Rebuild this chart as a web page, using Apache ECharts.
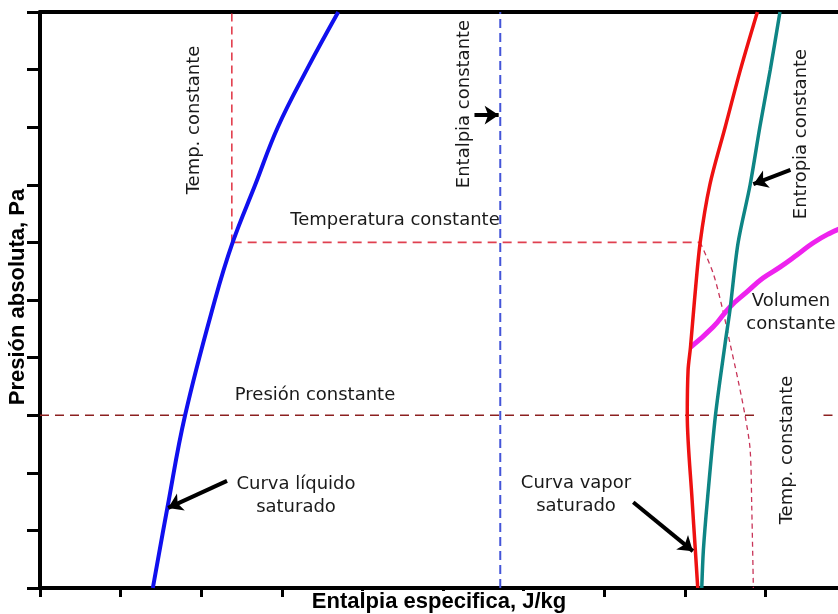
<!DOCTYPE html>
<html>
<head>
<meta charset="utf-8">
<script src="https://cdn.jsdelivr.net/npm/echarts@6/dist/echarts.min.js"></script>
<style>
  html, body { margin: 0; padding: 0; background: #fff; }
  #chart { width: 838px; height: 614px; }
</style>
</head>
<body>
<div id="chart"></div>
<script>
// Diagrama presión–entalpía (escala relativa; una división por marca)
const xTicks = [0, 1, 2, 3, 4, 5, 6, 7, 8, 9];
const yTicks = [0, 1, 2, 3, 4, 5, 6, 7, 8, 9, 10];

// Curva de líquido saturado
const liquidoH = [1.40, 1.58, 1.80, 2.17, 2.39, 2.67, 2.95, 3.31, 3.70];
const liquidoP = [0, 1.39, 3.0, 5.0, 6.0, 7.0, 8.0, 9.0, 10.0];

// Curva de vapor saturado
const vaporH = [8.16, 8.13, 8.09, 8.03, 8.04, 8.07, 8.12, 8.19, 8.31, 8.50, 8.69, 8.90];
const vaporP = [0, 0.66, 1.53, 3.0, 3.78, 4.18, 5.0, 6.0, 7.0, 8.0, 9.0, 10.0];

// Entropía constante
const entropiaH = [8.21, 8.23, 8.28, 8.38, 8.50, 8.56, 8.66, 8.81, 8.93, 9.06, 9.18];
const entropiaP = [0, 0.66, 1.53, 3.0, 4.25, 4.83, 5.99, 7.0, 8.0, 9.0, 10.0];

// Volumen constante
const volumenH = [8.07, 8.35, 8.56, 8.77, 8.97, 9.18, 9.39, 9.59, 9.80, 9.95];
const volumenP = [4.18, 4.53, 4.88, 5.14, 5.38, 5.57, 5.78, 5.99, 6.16, 6.25];

// Temperatura constante en la zona de vapor sobrecalentado
const tempVaporH = [8.19, 8.35, 8.47, 8.56, 8.66, 8.75, 8.81, 8.83, 8.85];
const tempVaporP = [6.0, 5.47, 4.83, 4.25, 3.61, 2.97, 2.40, 1.41, 0];

// Isotermas / isobaras / isentálpica (rectas)
const tempLiquidoH = [2.38, 2.38];
const tempLiquidoP = [6.0, 10.0];
const tempHorizH = [2.39, 8.19];
const tempHorizP = [6.0, 6.0];
const entalpiaH = [5.71, 5.71];
const entalpiaP = [0, 10];
const presionH1 = [0, 8.91];
const presionH2 = [9.72, 9.95];
const presionP = [3.0, 3.0];

// Flechas de anotación: [h inicio, p inicio, h punta, p punta]
const flechas = [
  [5.39, 8.21, 5.69, 8.21],
  [9.31, 7.26, 8.85, 7.01],
  [2.32, 1.86, 1.59, 1.39],
  [7.36, 1.49, 8.10, 0.64]
];

function pares(xs, ys) { return xs.map((x, i) => [x, ys[i]]); }

const chart = echarts.init(document.getElementById('chart'), null, { renderer: 'canvas' });

const txt = { fontFamily: 'DejaVu Sans', fontSize: 18, fill: '#1a1a1a' };
function etiqueta(text, x, y, rot) {
  return {
    type: 'text', x: x, y: y, rotation: rot || 0, z: 50,
    style: Object.assign({ text: text, align: 'center', verticalAlign: 'middle', lineHeight: 23 }, txt)
  };
}

function dashed(name, xs, ys, color, width, dash) {
  return {
    name: name, type: 'line', data: pares(xs, ys), showSymbol: false, symbol: 'none',
    lineStyle: { color: color, width: width, type: dash }, z: 1, silent: true
  };
}

const option = {
  animation: false,
  backgroundColor: '#fff',
  grid: { left: 40, top: 12, right: 0, bottom: 26 },
  xAxis: [{
    type: 'value', min: 0, max: 9.9, interval: 1,
    axisLine: { onZero: false, lineStyle: { color: '#000', width: 4 } },
    axisTick: { show: true, length: 9, customValues: xTicks, lineStyle: { color: '#000', width: 3 } },
    axisLabel: { show: false }, splitLine: { show: false }
  }, {
    type: 'value', position: 'top', min: 0, max: 9.9,
    axisLine: { onZero: false, lineStyle: { color: '#000', width: 4 } },
    axisTick: { show: false }, axisLabel: { show: false }, splitLine: { show: false }
  }],
  yAxis: {
    type: 'value', min: 0, max: 10, interval: 1,
    axisLine: { onZero: false, lineStyle: { color: '#000', width: 4 } },
    axisTick: { show: true, length: 13, customValues: yTicks, lineStyle: { color: '#000', width: 3 } },
    axisLabel: { show: false }, splitLine: { show: false }
  },
  series: [
    dashed('Entalpía constante', entalpiaH, entalpiaP, '#4455d8', 2, [9, 5]),
    dashed('Presión constante', presionH1, presionP, '#8c2020', 1.5, [9, 6]),
    dashed('Presión constante 2', presionH2, presionP, '#8c2020', 1.5, [9, 6]),
    dashed('Temp. constante líquido', tempLiquidoH, tempLiquidoP, '#e03040', 1.5, [8, 5]),
    dashed('Temperatura constante', tempHorizH, tempHorizP, '#e04050', 1.8, [9, 6]),
    Object.assign(dashed('Temp. constante vapor', tempVaporH, tempVaporP, '#c83458', 1.3, [5, 4]), { smooth: 0.3 }),
    {
      name: 'Volumen constante', type: 'line', data: pares(volumenH, volumenP), smooth: 0.5,
      showSymbol: false, symbol: 'none', lineStyle: { color: '#ee22ee', width: 5 }, z: 3
    },
    {
      name: 'Entropía constante', type: 'line', data: pares(entropiaH, entropiaP), smooth: 0.3,
      showSymbol: false, symbol: 'none', lineStyle: { color: '#0e8585', width: 3.5 }, z: 4
    },
    {
      name: 'Vapor saturado', type: 'line', data: pares(vaporH, vaporP), smooth: 0.3,
      showSymbol: false, symbol: 'none', lineStyle: { color: '#ee1111', width: 3.5 }, z: 4
    },
    {
      name: 'Líquido saturado', type: 'line', data: pares(liquidoH, liquidoP), smooth: 0.4,
      showSymbol: false, symbol: 'none', lineStyle: { color: '#1010ee', width: 4 }, z: 4
    },
    {
      name: 'Flechas', type: 'line', data: [], z: 6,
      markLine: {
        silent: true, animation: false,
        symbol: ['none', 'arrow'], symbolSize: 14,
        label: { show: false },
        lineStyle: { color: '#000', width: 4, type: 'solid' },
        data: flechas.map(f => [{ coord: [f[0], f[1]] }, { coord: [f[2], f[3]] }])
      }
    }
  ],
  graphic: [
    etiqueta('Temp. constante', 194, 120, Math.PI / 2),
    etiqueta('Temperatura constante', 395, 220),
    etiqueta('Entalpia constante', 464, 104, Math.PI / 2),
    etiqueta('Entropia constante', 801, 134, Math.PI / 2),
    etiqueta('Volumen\nconstante', 791, 313),
    etiqueta('Presión constante', 315, 395),
    etiqueta('Curva líquido\nsaturado', 296, 496),
    etiqueta('Curva vapor\nsaturado', 576, 495),
    etiqueta('Temp. constante', 787, 450, Math.PI / 2),
    {
      type: 'text', x: 18, y: 297, rotation: Math.PI / 2, z: 60,
      style: {
        text: 'Presión absoluta, Pa', align: 'center', verticalAlign: 'middle',
        fontFamily: 'Liberation Sans', fontWeight: 'bold', fontSize: 22, fill: '#000'
      }
    },
    {
      type: 'text', x: 439, y: 602, z: 60,
      style: {
        text: 'Entalpia especifica, J/kg', align: 'center', verticalAlign: 'middle',
        fontFamily: 'Liberation Sans', fontWeight: 'bold', fontSize: 22, fill: '#000',
        backgroundColor: '#fff', padding: [0, 2, 0, 2]
      }
    }
  ]
};

chart.setOption(option);
</script>
</body>
</html>
